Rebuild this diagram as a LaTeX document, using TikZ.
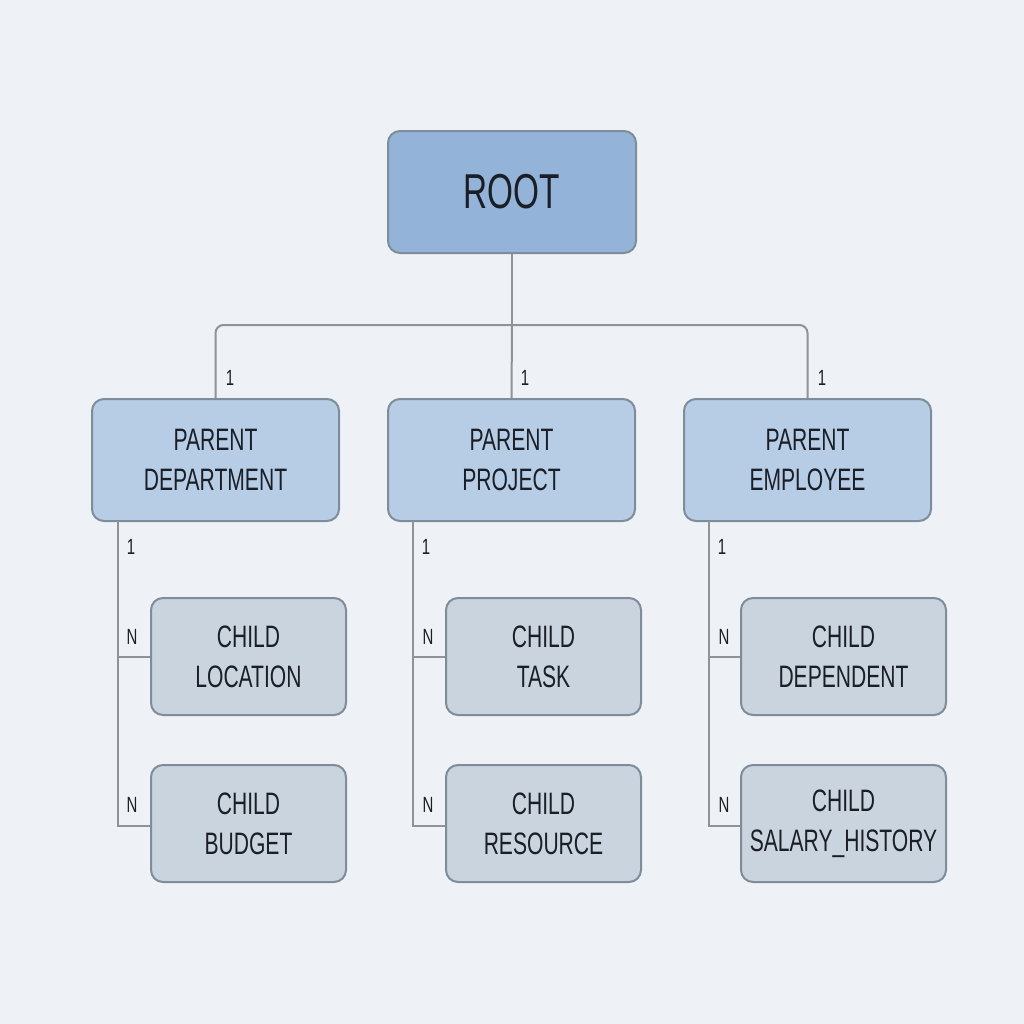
\documentclass[tikz,border=0pt]{standalone}
\usepackage{fontspec}
\setmainfont{Liberation Sans}[FakeStretch=0.68]
\begin{document}
\begin{tikzpicture}[x=0.5pt,y=-0.5pt,
  every node/.style={font=\normalfont},
  box/.style={draw=boxline, line width=1pt, rounded corners=6pt, align=center, inner sep=0pt, text=textcol},
  rootbox/.style={box, fill=rootfill, minimum width=124pt, minimum height=61pt, font=\fontsize{24.5}{28}\selectfont},
  parbox/.style={box, fill=parfill, minimum width=123.5pt, minimum height=61pt, font=\fontsize{15.5}{20}\selectfont},
  kidbox/.style={box, fill=kidfill, minimum width=97.5pt, minimum height=58.5pt, font=\fontsize{15.5}{20}\selectfont},
  conn/.style={draw=linecol, line width=1pt},
  card/.style={font=\fontsize{11}{13}\selectfont, text=textcol, inner sep=0pt}]
\definecolor{bg}{HTML}{EEF2F7}
\definecolor{rootfill}{HTML}{93B3D9}
\definecolor{parfill}{HTML}{B7CDE6}
\definecolor{kidfill}{HTML}{CAD4DF}
\definecolor{boxline}{HTML}{7F8C9A}
\definecolor{linecol}{HTML}{8E9399}
\definecolor{textcol}{HTML}{1A1E26}
\fill[bg] (0,0) rectangle (1024,1024);
\useasboundingbox (0,0) rectangle (1024,1024);

\node[rootbox] (root) at (512,192) {ROOT};
\node[parbox] (p1) at (215.5,460) {PARENT\\DEPARTMENT};
\node[parbox] (p2) at (511.5,460) {PARENT\\PROJECT};
\node[parbox] (p3) at (807.5,460) {PARENT\\EMPLOYEE};

\node[kidbox] (c11) at (248.5,656.5) {CHILD\\LOCATION};
\node[kidbox] (c12) at (248.5,823.5) {CHILD\\BUDGET};
\node[kidbox] (c21) at (543.5,656.5) {CHILD\\TASK};
\node[kidbox] (c22) at (543.5,823.5) {CHILD\\RESOURCE};
\node[kidbox, minimum width=102.5pt] (c31) at (843.5,656.5) {CHILD\\DEPENDENT};
\node[kidbox, minimum width=102.5pt] (c32) at (843.5,823.5) {CHILD\\SALARY\_HISTORY};

\coordinate (bus) at (512,325);
\draw[conn] (root.south) -- (bus);
\draw[conn, rounded corners=4pt] (p1.north) |- (bus) -| (p3.north);
\draw[conn] (bus) -- (p2.north);

\node[card] (l1) at (230,378) {1};
\node[card] (l2) at (525,378) {1};
\node[card] (l3) at (822,378) {1};

\foreach \p/\a/\b/\x in {p1/c11/c12/118, p2/c21/c22/413, p3/c31/c32/709}{
  \draw[conn] (\x,521) -- (\x,826) -- (\b.west |- 0,826);
  \draw[conn] (\x,657) -- (\a.west |- 0,657);
}
\node[card] (k1) at (131,547) {1};
\node[card] (k2) at (426,547) {1};
\node[card] (k3) at (722,547) {1};
\node[card] (n11) at (132,637) {N};
\node[card] (n12) at (132,805) {N};
\node[card] (n21) at (428,637) {N};
\node[card] (n22) at (428,805) {N};
\node[card] (n31) at (724,637) {N};
\node[card] (n32) at (724,805) {N};
\end{tikzpicture}
\end{document}
